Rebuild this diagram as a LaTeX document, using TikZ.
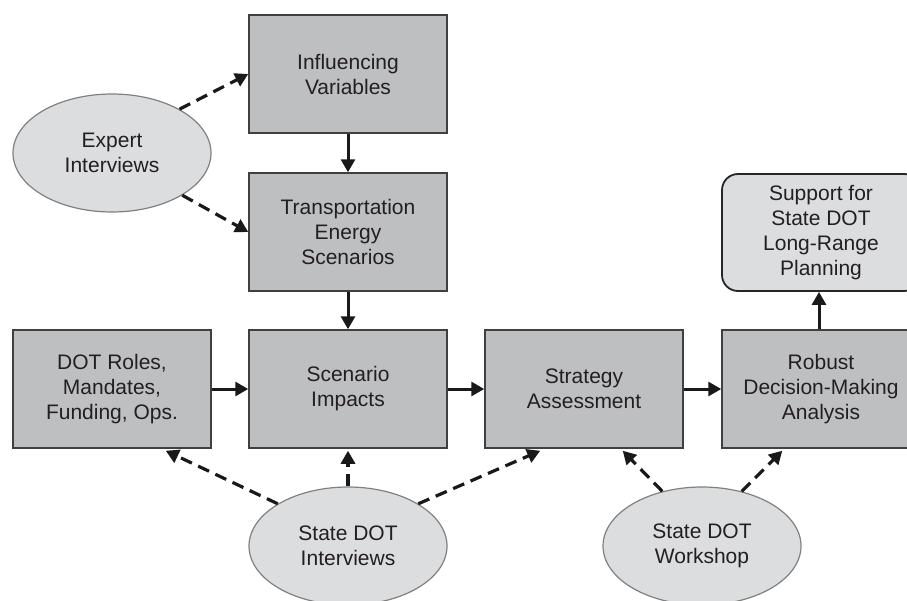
\documentclass[tikz,border=0pt]{standalone}
\usepackage{fontspec}
\setmainfont{Liberation Sans}
\usetikzlibrary{arrows.meta,shapes.geometric}
\definecolor{boxfill}{HTML}{BEBFC1}
\definecolor{boxline}{HTML}{404040}
\definecolor{ovalfill}{HTML}{DCDDDE}
\definecolor{ovalline}{HTML}{808080}
\definecolor{ink}{HTML}{231F20}
\begin{document}
\begin{tikzpicture}[x=1pt,y=-1pt,
  every node/.style={font=\fontsize{21}{25}\selectfont, text=ink, align=center, inner sep=0pt},
  stepbox/.style={rectangle, draw=boxline, line width=1.5pt, fill=boxfill,
    minimum width=198pt, minimum height=118pt},
  goalbox/.style={rectangle, rounded corners=16pt, draw=black!85, line width=1.8pt, fill=ovalfill,
    minimum width=198pt, minimum height=117pt},
  source/.style={ellipse, draw=ovalline, line width=1.2pt, fill=ovalfill,
    minimum width=198pt, minimum height=118pt},
  flow/.style={draw=black!90, line width=3pt, -{Triangle[length=13pt,width=14pt]}},
  feed/.style={draw=black!90, line width=3.2pt, dash pattern=on 12pt off 7pt,
    -{Triangle[length=13pt,width=14pt]}}
]
\useasboundingbox (0,0) rectangle (907,600);
\clip (0,0) rectangle (907,600);

% process boxes
\node[stepbox] (infl)  at (348,74)   {Influencing\\Variables};
\node[stepbox] (trans) at (348,232)  {Transportation\\Energy\\Scenarios};
\node[stepbox] (dot)   at (112,389)  {DOT Roles,\\Mandates,\\Funding, Ops.};
\node[stepbox] (scen)  at (348,389)  {Scenario\\Impacts};
\node[stepbox] (strat) at (584,389)  {Strategy\\Assessment};
\node[stepbox] (rob)   at (821,389)  {Robust\\Decision-Making\\Analysis};
\node[goalbox] (sup)   at (821,232.5) {Support for\\State DOT\\Long-Range\\Planning};

% input sources
\node[source] (exp) at (112,153) {Expert\\Interviews};
\node[source] (isv) at (348,546) {State DOT\\Interviews};
\node[source] (wks) at (702,546) {State DOT\\Workshop};

% main flow
\draw[flow] (infl.south) -- (trans.north);
\draw[flow] (trans.south) -- (scen.north);
\draw[flow] (dot.east) -- (scen.west);
\draw[flow] (scen.east) -- (strat.west);
\draw[flow] (strat.east) -- (rob.west);
\draw[flow] ([xshift=-2pt]rob.north) -- ([xshift=-2pt]sup.south);

% inputs from interviews and workshop
\draw[feed] (exp.33) -- (infl.west);
\draw[feed] (exp.-31) -- (trans.west);
\draw[feed] (isv.149) -- ([xshift=-46pt,yshift=-2pt]dot.south east);
\draw[feed] (isv.north) -- ([yshift=-2pt]scen.south);
\draw[feed] (isv.31) -- ([xshift=56pt,yshift=-2pt]strat.south west);
\draw[feed] (wks.126) -- ([xshift=-61pt,yshift=-2pt]strat.south east);
\draw[feed] (wks.54) -- ([xshift=61pt,yshift=-2pt]rob.south west);
\end{tikzpicture}
\end{document}
